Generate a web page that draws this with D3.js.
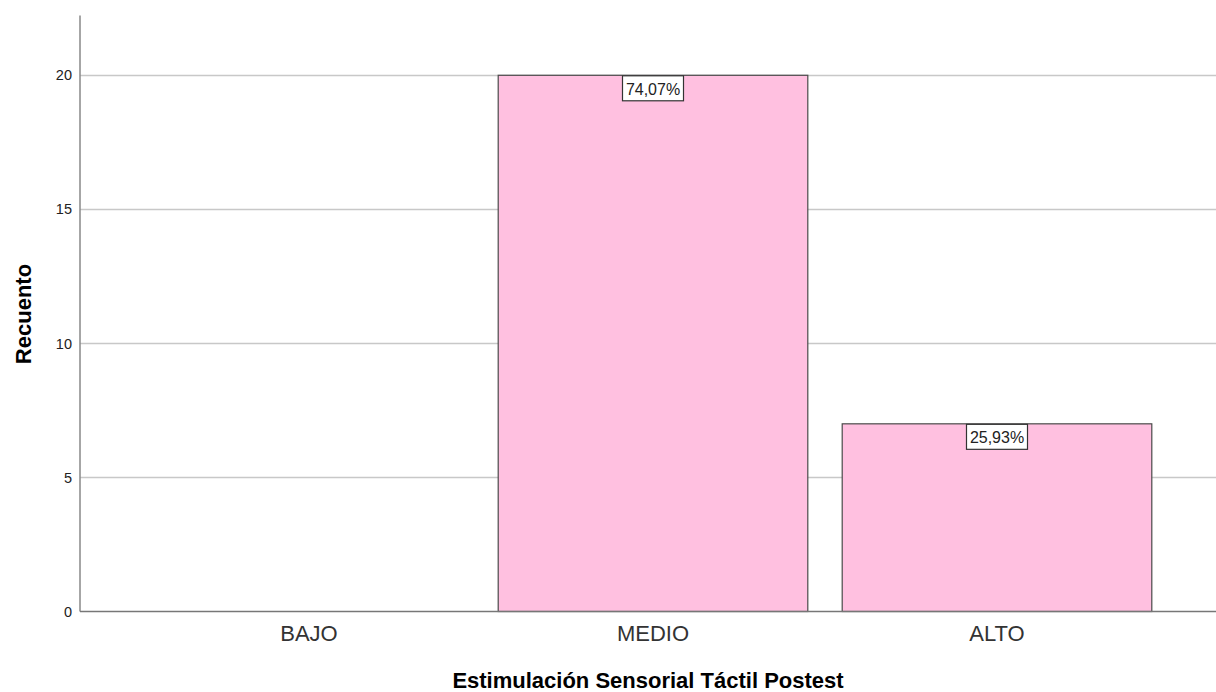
<!DOCTYPE html>
<html><head><meta charset="utf-8">
<script src="https://cdn.jsdelivr.net/npm/d3@7"></script>
<style>body{margin:0;background:#fff}svg{display:block}text{font-family:"Liberation Sans",Arial,sans-serif}</style>
</head><body>
<svg id="c" width="1216" height="692"></svg>
<script>
const categories = ["BAJO","MEDIO","ALTO"];
const counts = [0,20,7];
const percentLabels = [null,"74,07%","25,93%"];
const yTicks = [0,5,10,15,20];
const xTitle = "Estimulación Sensorial Táctil Postest";
const yTitle = "Recuento";

const svg = d3.select("#c");
const pLeft = 80, pRight = 1216, pTop = 15.5, pBottom = 611.5;
const x = d3.scaleBand().domain(categories).range([137,1169]).paddingInner(0.1).paddingOuter(0.05);
const y = d3.scaleLinear().domain([0,22.23]).range([pBottom, pTop]);

// gridlines
svg.append("g").selectAll("line").data(yTicks.filter(d=>d>0)).join("line")
  .attr("x1",pLeft).attr("x2",pRight).attr("y1",d=>Math.round(y(d))+0.5).attr("y2",d=>Math.round(y(d))+0.5)
  .attr("stroke","#c8c8c8").attr("stroke-width",1.5);

// bars
const data = categories.map((c,i)=>({c, v:counts[i], p:percentLabels[i]}));
svg.append("g").selectAll("rect").data(data.filter(d=>d.v>0)).join("rect")
  .attr("x",d=>x(d.c)).attr("y",d=>y(d.v)).attr("width",x.bandwidth()).attr("height",d=>y(0)-y(d.v))
  .attr("fill","#ffc0e0").attr("stroke","#4a4a4a").attr("stroke-width",1.2);

// labels
const lg = svg.append("g").selectAll("g").data(data.filter(d=>d.p)).join("g")
  .attr("transform",d=>`translate(${x(d.c)+x.bandwidth()/2},${y(d.v)})`);
lg.append("rect").attr("x",-30.5).attr("y",0.5).attr("width",61).attr("height",25)
  .attr("fill","#fff").attr("stroke","#333").attr("stroke-width",1.2);
lg.append("text").attr("text-anchor","middle").attr("y",19.5).attr("font-size",16).attr("fill","#222").text(d=>d.p);

// y axis
const ya = svg.append("g").attr("transform",`translate(${pLeft},0)`)
  .call(d3.axisLeft(y).tickValues(yTicks).tickSize(0).tickPadding(8));
ya.select(".domain").remove();
ya.selectAll("text").attr("font-size",14.5).attr("fill","#222").style("font-family","'Liberation Sans',Arial,sans-serif");
svg.append("line").attr("x1",pLeft).attr("x2",pLeft).attr("y1",pTop).attr("y2",pBottom).attr("stroke","#888").attr("stroke-width",1.5);

// x axis
const xa = svg.append("g").attr("transform",`translate(0,${pBottom})`)
  .call(d3.axisBottom(x).tickSize(0).tickPadding(14));
xa.select(".domain").remove();
xa.selectAll("text").attr("font-size",22).attr("fill","#333").style("font-family","'Liberation Sans',Arial,sans-serif");
svg.append("line").attr("x1",pLeft).attr("x2",pRight).attr("y1",pBottom).attr("y2",pBottom).attr("stroke","#777").attr("stroke-width",1.5);

// titles
svg.append("text").attr("x",648).attr("y",688).attr("text-anchor","middle")
  .attr("font-size",22).attr("font-weight","bold").attr("fill","#000").text(xTitle);
svg.append("text").attr("transform","translate(31,314) rotate(-90)").attr("text-anchor","middle")
  .attr("font-size",22).attr("font-weight","bold").attr("fill","#000").text(yTitle);
</script>
</body></html>
